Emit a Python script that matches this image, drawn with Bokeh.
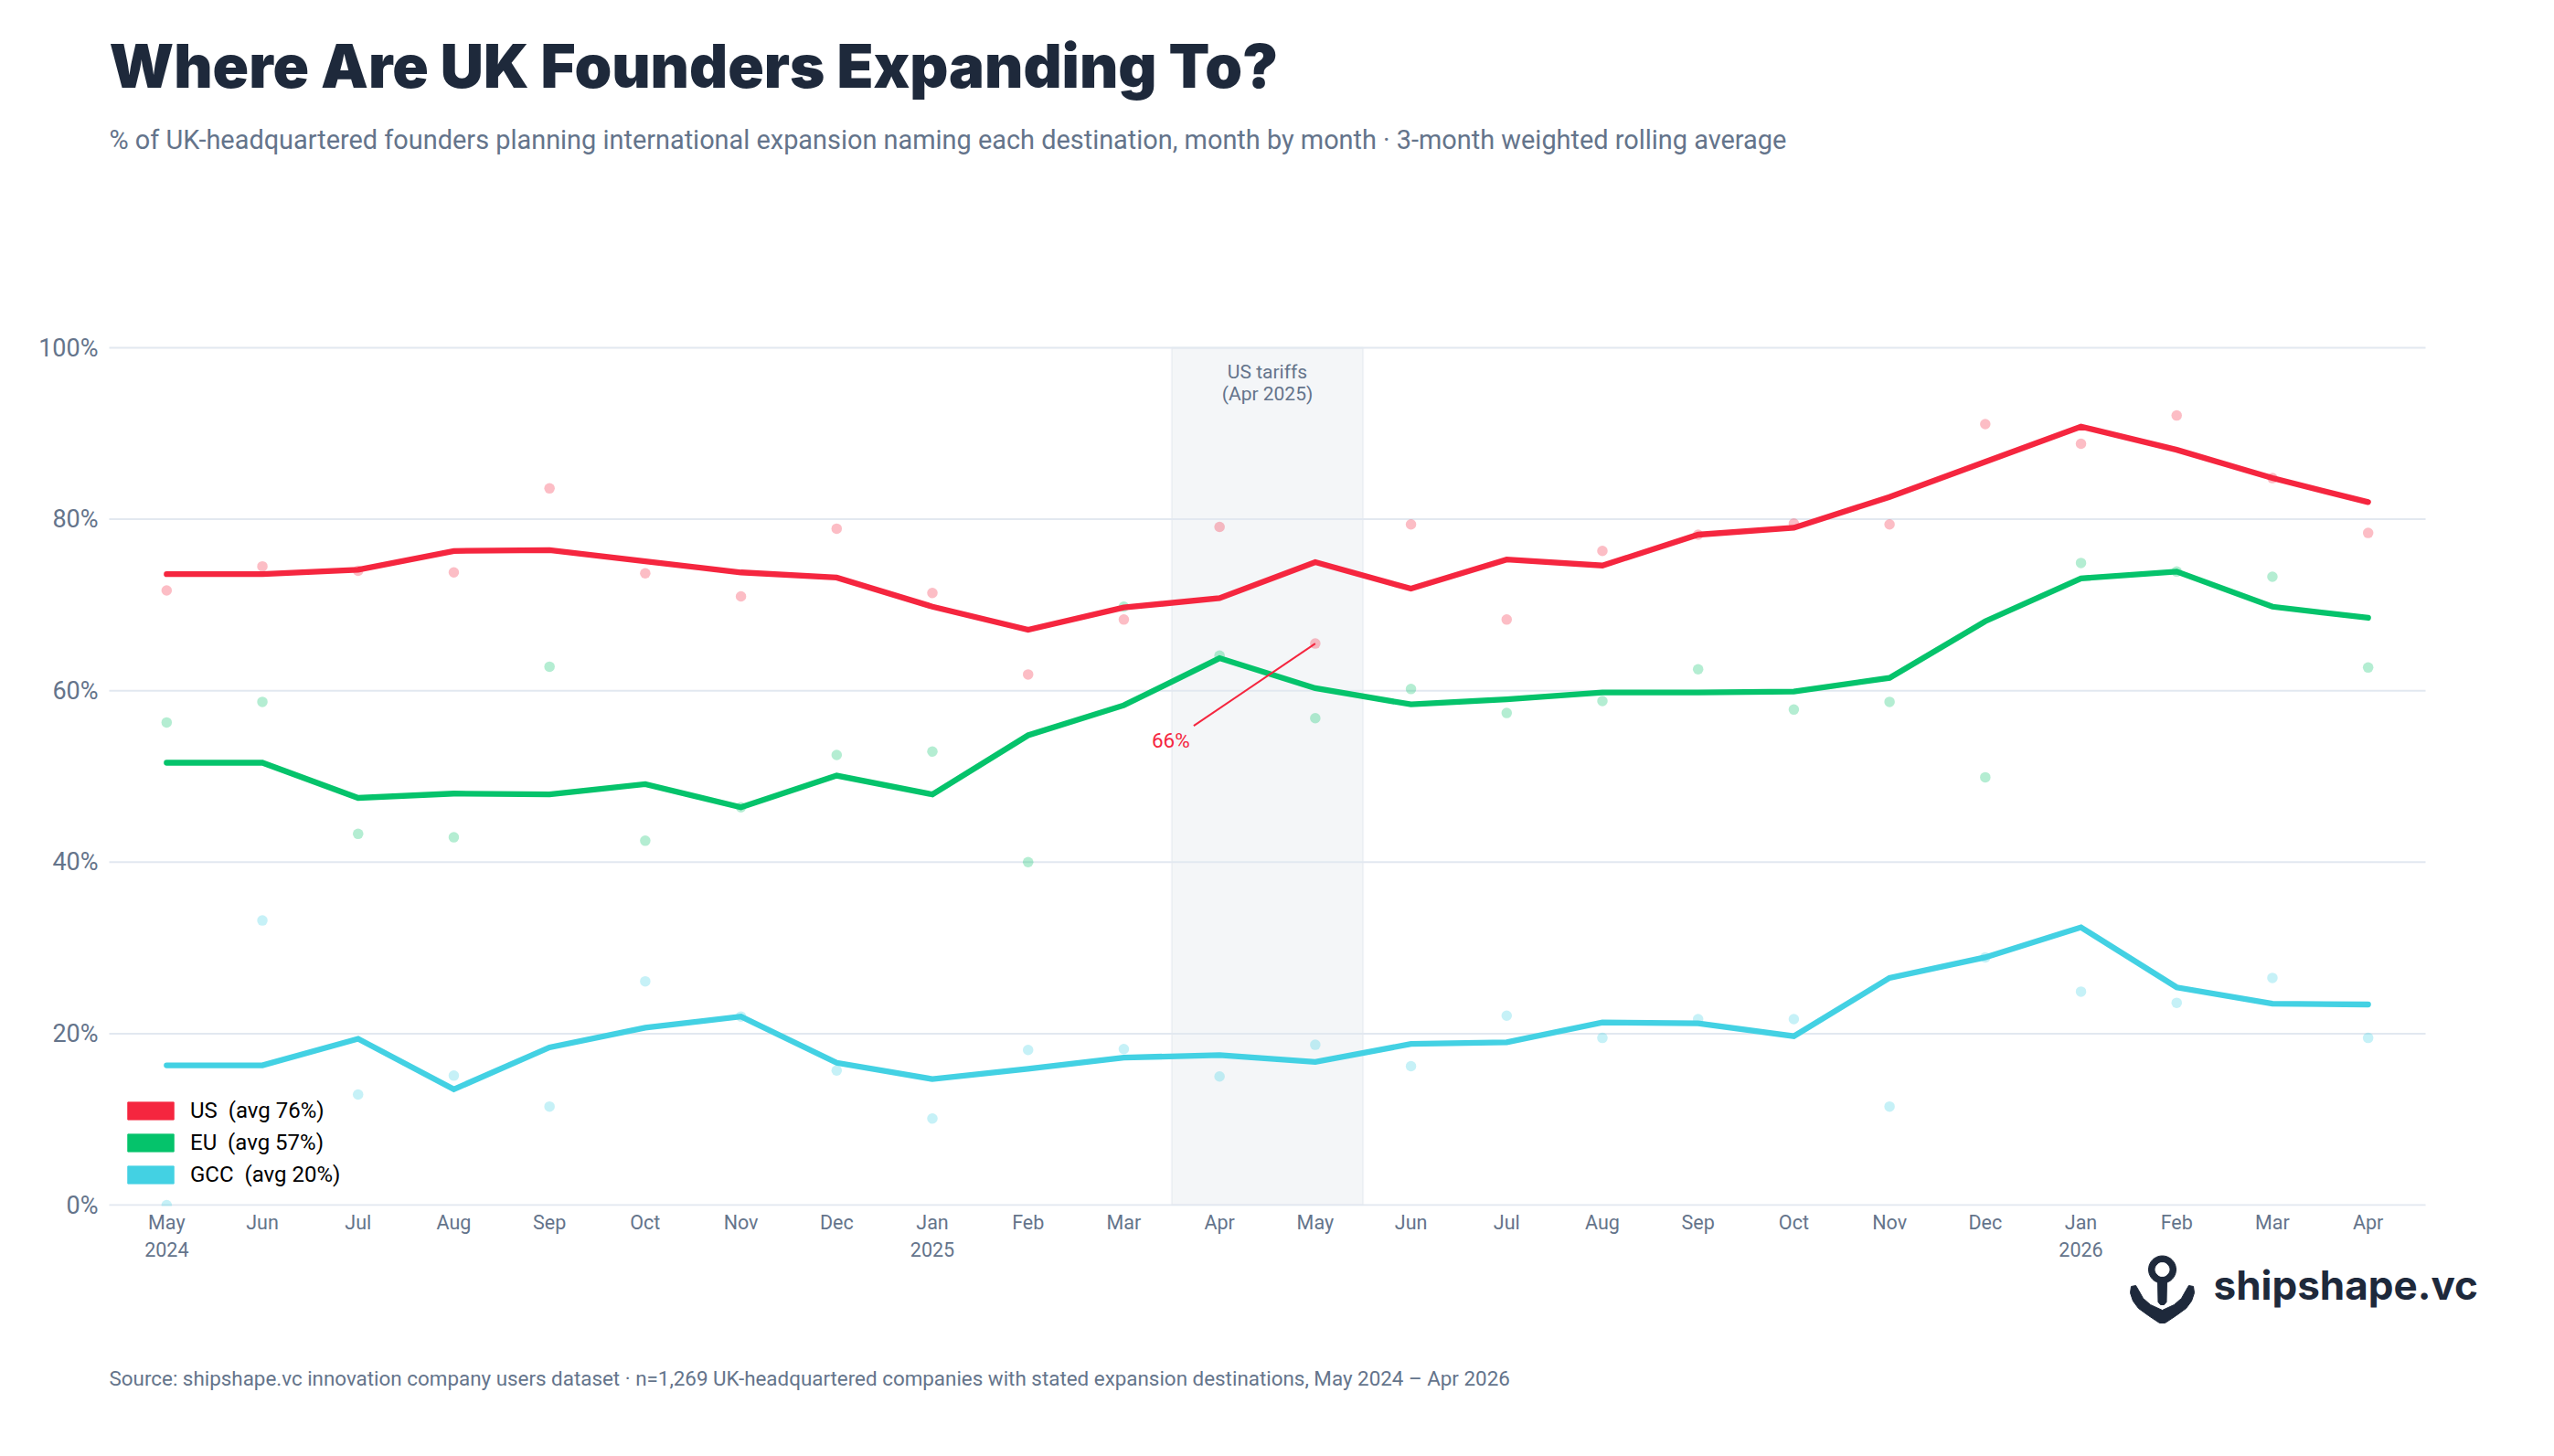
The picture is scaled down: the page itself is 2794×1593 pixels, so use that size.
import math
from bokeh.plotting import figure
from bokeh.embed import file_html
from bokeh.resources import INLINE
from bokeh.models import (Label, Legend, LegendItem, BoxAnnotation, PolyAnnotation,
                          FixedTicker, Range1d)

TITLE = "Where Are UK Founders Expanding To?"
SUBTITLE = "% of UK-headquartered founders planning international expansion naming each destination, month by month · 3-month weighted rolling average"
SOURCE = "Source: shipshape.vc innovation company users dataset · n=1,269 UK-headquartered companies with stated expansion destinations, May 2024 – Apr 2026"

months = ["May\n2024", "Jun", "Jul", "Aug", "Sep", "Oct", "Nov", "Dec", "Jan\n2025", "Feb", "Mar", "Apr",
          "May", "Jun", "Jul", "Aug", "Sep", "Oct", "Nov", "Dec", "Jan\n2026", "Feb", "Mar", "Apr"]
y_ticks = [0, 20, 40, 60, 80, 100]
y_labels = ["0%", "20%", "40%", "60%", "80%", "100%"]

us_avg = [73.6, 73.6, 74.1, 76.3, 76.4, 75.1, 73.8, 73.2, 69.8, 67.1, 69.7, 70.8,
          75.0, 71.9, 75.3, 74.6, 78.2, 79.0, 82.6, 86.7, 90.8, 88.1, 84.8, 82.0]
us_raw = [71.7, 74.5, 74.0, 73.8, 83.6, 73.7, 71.0, 78.9, 71.4, 61.9, 68.3, 79.1,
          65.5, 79.4, 68.3, 76.3, 78.2, 79.5, 79.4, 91.1, 88.8, 92.1, 84.8, 78.4]
eu_avg = [51.6, 51.6, 47.5, 48.0, 47.9, 49.1, 46.4, 50.1, 47.9, 54.8, 58.3, 63.8,
          60.3, 58.4, 59.0, 59.8, 59.8, 59.9, 61.5, 68.1, 73.1, 73.9, 69.8, 68.5]
eu_raw = [56.3, 58.7, 43.3, 42.9, 62.8, 42.5, 46.4, 52.5, 52.9, 40.0, 69.8, 64.1,
          56.8, 60.2, 57.4, 58.8, 62.5, 57.8, 58.7, 49.9, 74.9, 73.9, 73.3, 62.7]
gcc_avg = [16.3, 16.3, 19.4, 13.5, 18.4, 20.7, 22.0, 16.6, 14.7, 15.9, 17.2, 17.5,
           16.7, 18.8, 19.0, 21.3, 21.2, 19.7, 26.5, 28.9, 32.4, 25.4, 23.5, 23.4]
gcc_raw = [0.0, 33.2, 12.9, 15.1, 11.5, 26.1, 22.0, 15.7, 10.1, 18.1, 18.2, 15.0,
           18.7, 16.2, 22.1, 19.5, 21.7, 21.7, 11.5, 28.9, 24.9, 23.6, 26.5, 19.5]
series_names = ["US  (avg 76%)", "EU  (avg 57%)", "GCC  (avg 20%)"]
series_colors = ["#F5263F", "#05C36B", "#43D1E3"]

WIDTH, HEIGHT = 2778, 1577
L, R, T, B = 119, 2653, 380, 1318   # plot-area edges in picture pixels
XMIN, XMAX = -0.6, 23.6
DARK, SLATE = "#1E293B", "#64748B"
XS = (R - L) / (XMAX - XMIN)
YS = (B - T) / 100


def dx(px):
    return XMIN + (px - L) / XS


def dy(py):
    return (B - py) / YS


p = figure(width=WIDTH, height=HEIGHT, output_backend="svg", toolbar_location=None,
           x_range=Range1d(dx(0), dx(WIDTH)), y_range=Range1d(dy(HEIGHT), dy(0)),
           min_border=0, background_fill_color="white", border_fill_color="white", outline_line_color=None)

xs = list(range(len(months)))
p.xgrid.visible = False
p.ygrid.visible = False
p.segment(x0=[XMIN] * len(y_ticks), x1=[XMAX] * len(y_ticks), y0=y_ticks, y1=y_ticks,
          line_color="#E2E8F0", line_width=2, level="underlay")

p.xaxis.fixed_location = 0
p.yaxis.fixed_location = XMIN
p.xaxis.ticker = FixedTicker(ticks=xs)
p.xaxis.major_label_overrides = dict(zip(xs, months))
p.yaxis.ticker = FixedTicker(ticks=y_ticks)
p.yaxis.major_label_overrides = dict(zip(y_ticks, y_labels))
for ax, size in ((p.xaxis, "21.5px"), (p.yaxis, "27px")):
    ax.axis_line_color = None
    ax.major_tick_line_color = None
    ax.minor_tick_line_color = None
    ax.major_label_text_color = SLATE
    ax.major_label_text_font = "Roboto"
    ax.major_label_text_font_size = size
p.xaxis.major_label_standoff = 0
p.yaxis.major_label_standoff = 6

band = BoxAnnotation(left=10.5, right=12.5, bottom=0, top=100, level="image",
                     fill_color="#94A3B8", fill_alpha=0.1,
                     line_color="#94A3B8", line_alpha=0.1, line_width=2)
p.add_layout(band)

for raw, col, al in zip((us_raw, eu_raw, gcc_raw), series_colors, (0.3, 0.3, 0.3)):
    p.scatter(xs, raw, size=11.5, fill_color=col, fill_alpha=al, line_color=None)

# the plot area clips the point that sits on the 0% line
p.add_layout(BoxAnnotation(left=XMIN, right=XMAX, top=dy(B + 1), bottom=dy(B + 12), level="glyph",
                           fill_color="white", fill_alpha=1, line_color=None))

nan = float("nan")
items = []
for avg, col, name in zip((us_avg, eu_avg, gcc_avg), series_colors, series_names):
    p.line(xs, avg, line_color=col, line_width=6.3, line_cap="round", line_join="miter")
    sw = p.quad(left=[nan], right=[nan], top=[nan], bottom=[nan], fill_color=col, line_color=col)
    items.append(LegendItem(label=name, renderers=[sw]))

legend = Legend(items=items, location=(133, 278), padding=0, margin=0, spacing=7,
                glyph_width=63, glyph_height=24, label_height=24, label_standoff=12,
                label_text_font="Roboto", label_text_font_size="24px", label_text_color="#000000",
                background_fill_alpha=0, border_line_color=None)
p.add_layout(legend, "center")

# callout for the May 2025 raw US value
p.line([12, 10.73], [us_raw[12], 55.9], line_color=series_colors[0], line_width=2)
p.add_layout(Label(x=10.69, y=54.2, text="66%", text_color=series_colors[0], text_font="Roboto",
                   text_font_size="22.5px", text_align="right", text_baseline="middle"))
p.add_layout(Label(x=11.5, y=97.15, text="US tariffs", text_color=SLATE, text_font="Roboto",
                   text_font_size="21px", text_align="center", text_baseline="middle"))
p.add_layout(Label(x=11.5, y=94.65, text="(Apr 2025)", text_color=SLATE, text_font="Roboto",
                   text_font_size="21px", text_align="center", text_baseline="middle"))


def page_text(px, py, text, font, size, color, style="normal"):
    p.add_layout(Label(x=dx(px), y=dy(py), text=text,
                       text_font=font, text_font_size=size, text_color=color, text_font_style=style,
                       text_baseline="alphabetic", text_align="left"))


page_text(119, 72, TITLE, "Inter Black", "65.3px", DARK, "normal")
page_text(119, 152, SUBTITLE, "Roboto", "28.9px", SLATE)
page_text(119, 1507, SOURCE, "Roboto", "22.4px", SLATE)
page_text(2421, 1405, "shipshape.vc", "Inter", "44px", DARK, "bold")


def page_poly(pts, color):
    p.add_layout(PolyAnnotation(xs=[dx(a) for a, _ in pts], ys=[dy(b) for _, b in pts],
                                fill_color=color, fill_alpha=1, line_color=color, line_alpha=1, line_width=1))


def circle(cx, cy, r, n=40):
    return [(cx + r * math.cos(2 * math.pi * i / n), cy + r * math.sin(2 * math.pi * i / n)) for i in range(n)]


page_poly(circle(2365, 1388.5, 15), DARK)
page_poly(circle(2365, 1388.5, 7.5), "#FFFFFF")
page_poly([(2360, 1400), (2370, 1400), (2369.5, 1424), (2367, 1427), (2363, 1427), (2360.5, 1424)], DARK)
page_poly([(2331, 1407), (2336, 1406), (2339, 1411), (2344, 1420), (2352, 1427), (2365, 1433),
           (2378, 1427), (2386, 1420), (2391, 1411), (2394, 1406), (2399, 1407), (2400, 1414),
           (2397, 1423), (2391, 1431), (2380, 1439), (2368, 1447), (2362, 1447), (2350, 1439),
           (2339, 1431), (2333, 1423), (2330, 1414)], DARK)

open("out.html", "w").write(file_html(p, INLINE))
